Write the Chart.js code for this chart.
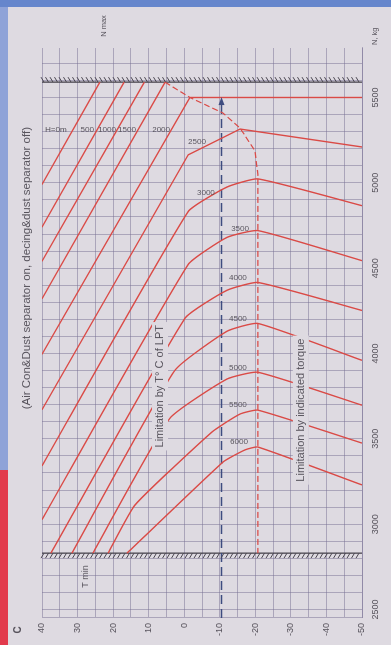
<!DOCTYPE html>
<html>
<head>
<meta charset="utf-8">
<script src="https://cdn.jsdelivr.net/npm/chart.js@4"></script>
<style>
  html, body { margin: 0; padding: 0; }
  body { width: 391px; height: 645px; overflow: hidden; background: #dedae1; position: relative; font-family: "Liberation Sans", Arial, sans-serif; }
  .band-top { position: absolute; left: 0; top: 0; width: 391px; height: 7px; background: #6686cc; }
  .strip-blue { position: absolute; left: 0; top: 7px; width: 8px; height: 463px; background: #8fa3d8; }
  .strip-red { position: absolute; left: 0; top: 470px; width: 8px; height: 175px; background: #e23a4c; }
  /* chart is drawn upright, then turned a quarter left like the scanned page */
  #wrap { position: absolute; left: 0; top: 0; width: 645px; height: 391px; transform-origin: 0 0; transform: translate(0, 645px) rotate(-90deg); }
</style>
</head>
<body>
<div class="band-top"></div>
<div class="strip-blue"></div>
<div class="strip-red"></div>
<div id="wrap"><canvas id="c" width="645" height="391"></canvas></div>
<script>
// ---- data: [T °C, N kg] ----
const curveH0    = [[40, 4990], [23.7, 5590]];
const curveH500  = [[40, 4740], [16.9, 5590]];
const curveH1000 = [[40, 4540], [11.2, 5590]];
const curveH1500 = [[40, 4320], [5.4, 5590]];
const curveH2000 = [[40, 3995], [-1.6, 5500], [-50, 5500]];
const curveH2500 = [[40, 3670], [-1.1, 5164], [-15.7, 5315], [-50, 5210]];
const curveH3000 = [[40, 3341], [-1.1, 4831], [-12, 4975], [-20.7, 5023], [-50, 4866]];
const curveH3500 = [[40, 3026], [-1.1, 4521], [-12, 4680], [-20.7, 4720], [-50, 4544]];
const curveH4000 = [[37.5, 2830], [-0.2, 4206], [-12, 4370], [-20.7, 4416], [-50, 4252]];
const curveH4500 = [[31.6, 2830], [2.6, 3902], [-12, 4130], [-20.7, 4176], [-50, 3960]];
const curveH5000 = [[25.7, 2830], [4.0, 3621], [-12, 3850], [-20.7, 3890], [-50, 3697]];
const curveH5500 = [[21.4, 2830], [13.8, 3113], [-7.8, 3540], [-15.7, 3645], [-20.7, 3668], [-50, 3475]];
const curveH6000 = [[16.1, 2830], [-10.9, 3364], [-17.1, 3435], [-20.7, 3452], [-50, 3230]];

const torqueLimit = [[5.4, 5590], [-1.6, 5500], [-10.9, 5409], [-15.7, 5321], [-19.9, 5187], [-20.7, 5050], [-20.7, 2830]];
const lptArrow = [[-10.5, 2450], [-10.5, 5479]];
const nMaxLine = [[40, 5590], [-50, 5590]];
const tMinLine = [[40, 2830], [-50, 2830]];

const altitudeNames = ['H=0m', '500', '1000', '1500', '2000', '2500', '3000', '3500', '4000', '4500', '5000', '5500', '6000'];
const altitudeAt = [[36.1, 5310], [27.3, 5310], [21.7, 5310], [16.1, 5310], [6.5, 5310], [-3.6, 5240], [-6.1, 4942],
                    [-15.7, 4731], [-15.1, 4445], [-15.1, 4206], [-15.1, 3919], [-15.1, 3697], [-15.4, 3481]];

const nTicks = [2500, 3000, 3500, 4000, 4500, 5000, 5500];
const tTicks = [-50, -40, -30, -20, -10, 0, 10, 20, 30, 40];

const BG = '#dedae1';
const RED = '#da4a46';
const GRID = 'rgba(120, 112, 148, 0.5)';
const TXT = '#57535c';
const FONT = '"Liberation Sans", Arial, sans-serif';

const toXY = pts => pts.map(([t, n]) => ({ x: n, y: t }));
const redLine = (pts, tension = 0) => ({ data: toXY(pts), borderColor: RED, borderWidth: 1.4, pointRadius: 0, tension });

const extras = {
    id: 'extras',
    afterDatasetsDraw(chart) {
        const { ctx, chartArea: a, scales: { x, y } } = chart;
        ctx.save();

        // hatching on the N max and T min lines
        ctx.strokeStyle = '#4a4650';
        ctx.lineWidth = 1;
        const hatch = (n, dir) => {
            const px = x.getPixelForValue(n);
            for (let py = a.top + 2; py <= a.bottom; py += 4.5) {
                ctx.beginPath();
                ctx.moveTo(px, py);
                ctx.lineTo(px + dir * 5, py - 3);
                ctx.stroke();
            }
        };
        hatch(nMaxLine[0][1], 1);
        hatch(tMinLine[0][1], -1);

        // arrow head at the end of the dashed LPT line
        const ax = x.getPixelForValue(lptArrow[1][1]);
        const ay = y.getPixelForValue(lptArrow[1][0]);
        ctx.fillStyle = '#3e4c80';
        ctx.beginPath();
        ctx.moveTo(ax + 4, ay);
        ctx.lineTo(ax - 4, ay - 3);
        ctx.lineTo(ax - 4, ay + 3);
        ctx.closePath();
        ctx.fill();

        // altitude labels (written across the lines, so turned)
        ctx.fillStyle = TXT;
        ctx.font = '8px ' + FONT;
        ctx.textAlign = 'center';
        ctx.textBaseline = 'middle';
        altitudeNames.forEach((s, i) => {
            ctx.save();
            ctx.translate(x.getPixelForValue(altitudeAt[i][1]), y.getPixelForValue(altitudeAt[i][0]));
            ctx.rotate(Math.PI / 2);
            ctx.fillText(s, 0, 0);
            ctx.restore();
        });

        // boxed notes
        const note = (s, n, t) => {
            ctx.font = '11px ' + FONT;
            const w = ctx.measureText(s).width + 6;
            const px = x.getPixelForValue(n), py = y.getPixelForValue(t);
            ctx.fillStyle = BG;
            ctx.fillRect(px - w / 2, py - 8, w, 16);
            ctx.fillStyle = TXT;
            ctx.fillText(s, px, py);
        };
        note('Limitation by T\u00b0 C of LPT', 3808, 6.8);
        note('Limitation by indicated torque', 3668, -32.8);

        ctx.font = '9px ' + FONT;
        ctx.fillText('T min', x.getPixelForValue(2693), y.getPixelForValue(27.9));

        // texts round the frame
        ctx.font = '11.5px ' + FONT;
        ctx.fillText('(Air Con&Dust separator on, decing&dust separator off)', x.getPixelForValue(4500), a.top - 15);
        ctx.font = 'bold 10px ' + FONT;
        ctx.fillText('C', a.left - 12, a.top - 24);
        ctx.font = '7.5px ' + FONT;
        ctx.fillText('N max', a.right + 22, y.getPixelForValue(22.5));
        ctx.textAlign = 'left';
        ctx.fillText('N, kg', a.right + 3, a.bottom + 13);
        ctx.restore();
    }
};

new Chart(document.getElementById('c'), {
    type: 'line',
    data: {
        datasets: [
            redLine(curveH0), redLine(curveH500), redLine(curveH1000), redLine(curveH1500),
            redLine(curveH2000), redLine(curveH2500), redLine(curveH3000, 0.15), redLine(curveH3500, 0.15),
            redLine(curveH4000, 0.15), redLine(curveH4500, 0.15), redLine(curveH5000, 0.15), redLine(curveH5500, 0.15),
            redLine(curveH6000, 0.15),
            { data: toXY(torqueLimit), borderColor: RED, borderWidth: 1.2, borderDash: [6, 3], pointRadius: 0 },
            { data: toXY(lptArrow), borderColor: '#3e4c80', borderWidth: 1.6, borderDash: [9, 5], pointRadius: 0 },
            { data: toXY(nMaxLine), borderColor: '#4a4650', borderWidth: 1.3, pointRadius: 0 },
            { data: toXY(tMinLine), borderColor: '#4a4650', borderWidth: 1.3, pointRadius: 0 }
        ]
    },
    options: {
        responsive: false,
        animation: false,
        devicePixelRatio: 1,
        layout: { padding: { left: 0, right: 48, top: 42, bottom: 0 } },
        plugins: { legend: { display: false }, tooltip: { enabled: false }, title: { display: false } },
        scales: {
            x: {
                type: 'linear', min: 2450, max: 5790,
                afterBuildTicks: s => { const t = []; for (let v = 2500; v <= 5700; v += 100) t.push({ value: v }); s.ticks = t; },
                afterFit: s => { s.height = 29; },
                grid: { color: GRID, lineWidth: 1, drawTicks: false },
                border: { color: GRID },
                ticks: {
                    autoSkip: false, maxRotation: 0, padding: 8, color: TXT,
                    font: { size: 9, family: FONT },
                    callback: v => nTicks.includes(v) ? String(v) : ''
                }
            },
            y: {
                type: 'linear', min: -50, max: 40,
                afterBuildTicks: s => { const t = []; for (let v = -50; v <= 40; v += 5) t.push({ value: v }); s.ticks = t; },
                afterFit: s => { s.width = 27; },
                grid: { color: GRID, lineWidth: 1, drawTicks: false },
                border: { color: GRID },
                ticks: {
                    autoSkip: false, padding: 5, color: TXT,
                    font: { size: 9, family: FONT },
                    callback: v => tTicks.includes(v) ? String(v) : ''
                }
            }
        }
    },
    plugins: [extras]
});
</script>
</body>
</html>
